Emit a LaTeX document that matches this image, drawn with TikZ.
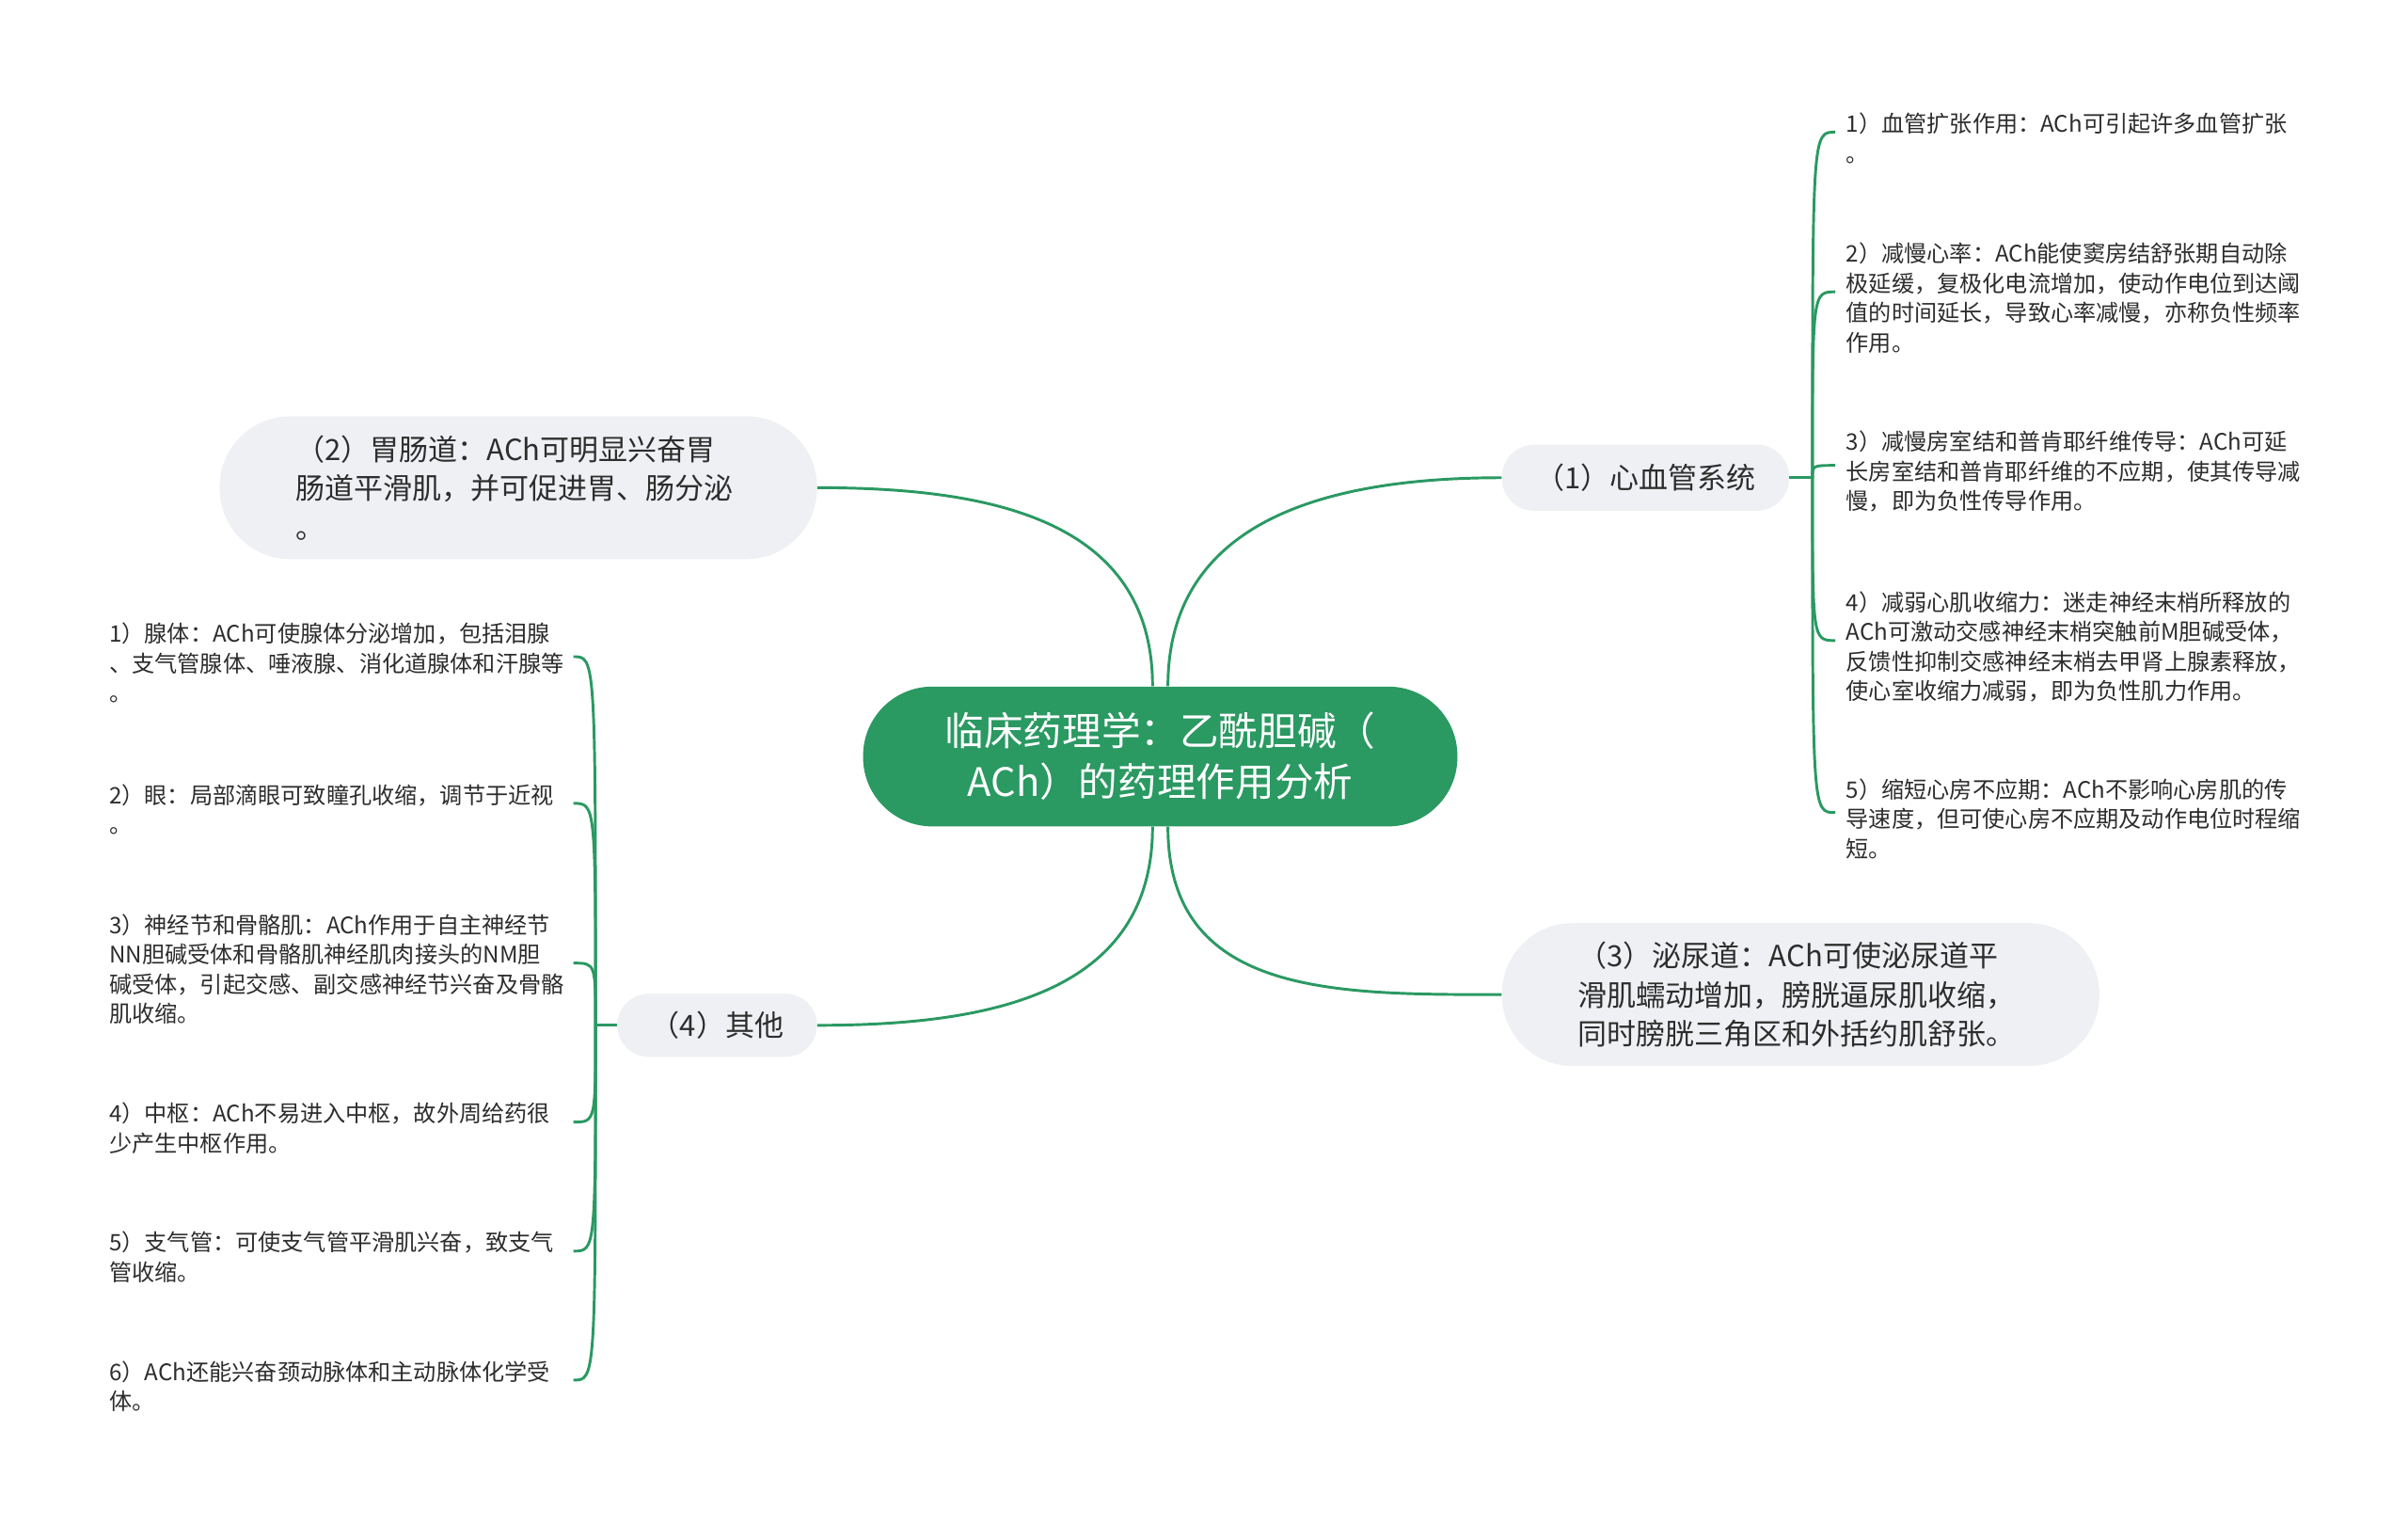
\documentclass[tikz,border=0pt]{standalone}
\usepackage{fontspec}
\setmainfont{Noto Sans CJK SC}
\usetikzlibrary{calc}
\definecolor{mmgreen}{RGB}{42,153,98}
\definecolor{subfill}{RGB}{238,240,243}
\definecolor{txt}{RGB}{45,45,45}
\begin{document}
\begin{tikzpicture}[x=1pt,y=-1pt,
  conn/.style={draw=mmgreen, line width=1.8pt},
  rootbox/.style={fill=mmgreen, text=white, rounded corners=45pt, minimum width=387pt, minimum height=91pt, inner sep=0pt, align=center, font=\fontsize{25.5}{33}\selectfont},
  subbox/.style={fill=subfill, text=txt, inner sep=0pt, font=\fontsize{19}{25.5}\selectfont},
  leaf/.style={text=txt, inner sep=0pt, text width=300pt, align=left, anchor=west, font=\fontsize{14.8}{19.3}\selectfont}]
\useasboundingbox (0,0) rectangle (1568,992.9);
\fill[white] (0,0) rectangle (1568,992.9);

% root and main branches
\node[rootbox] (root) at (755.5,492.5) {临床药理学：乙酰胆碱（\\ACh）的药理作用分析};
\node[subbox, rounded corners=21pt, minimum width=187pt, minimum height=43pt] (c1) at (1071.5,311) {（1）心血管系统};
\node[subbox, rounded corners=46pt, minimum width=389pt, minimum height=93pt, text width=290pt, align=left] (c2) at (337.5,317.5) {（2）胃肠道：ACh可明显兴奋胃\\肠道平滑肌，并可促进胃、肠分泌\\。};
\node[subbox, rounded corners=46pt, minimum width=389pt, minimum height=93pt, text width=290pt, align=left] (c3) at (1172.5,647.5) {（3）泌尿道：ACh可使泌尿道平\\滑肌蠕动增加，膀胱逼尿肌收缩，\\同时膀胱三角区和外括约肌舒张。};
\node[subbox, rounded corners=20.5pt, minimum width=130pt, minimum height=41pt] (c4) at (467,667.5) {（4）其他};

% right leaves
\node[leaf] (r1) at (1202,90) {1）血管扩张作用：ACh可引起许多血管扩张\\。};
\node[leaf] (r2) at (1202,194) {2）减慢心率：ACh能使窦房结舒张期自动除\\极延缓，复极化电流增加，使动作电位到达阈\\值的时间延长，导致心率减慢，亦称负性频率\\作用。};
\node[leaf] (r3) at (1202,307) {3）减慢房室结和普肯耶纤维传导：ACh可延\\长房室结和普肯耶纤维的不应期，使其传导减\\慢，即为负性传导作用。};
\node[leaf] (r4) at (1202,421) {4）减弱心肌收缩力：迷走神经末梢所释放的\\ACh可激动交感神经末梢突触前M胆碱受体，\\反馈性抑制交感神经末梢去甲肾上腺素释放，\\使心室收缩力减弱，即为负性肌力作用。};
\node[leaf] (r5) at (1202,533) {5）缩短心房不应期：ACh不影响心房肌的传\\导速度，但可使心房不应期及动作电位时程缩\\短。};

% left leaves
\node[leaf] (l1) at (71,431.5) {1）腺体：ACh可使腺体分泌增加，包括泪腺\\、支气管腺体、唾液腺、消化道腺体和汗腺等\\。};
\node[leaf] (l2) at (71,527) {2）眼：局部滴眼可致瞳孔收缩，调节于近视\\。};
\node[leaf] (l3) at (71,631) {3）神经节和骨骼肌：ACh作用于自主神经节\\NN胆碱受体和骨骼肌神经肌肉接头的NM胆\\碱受体，引起交感、副交感神经节兴奋及骨骼\\肌收缩。};
\node[leaf] (l4) at (71,734.5) {4）中枢：ACh不易进入中枢，故外周给药很\\少产生中枢作用。};
\node[leaf] (l5) at (71,818.5) {5）支气管：可使支气管平滑肌兴奋，致支气\\管收缩。};
\node[leaf] (l6) at (71,902.5) {6）ACh还能兴奋颈动脉体和主动脉体化学受\\体。};

% root connectors
\draw[conn] ($(root.north)+(5,0)$) .. controls +(0,-110) and +(-110,0) .. (c1.west);
\draw[conn] ($(root.north)+(-5,0)$) .. controls +(0,-110) and +(110,0) .. (c2.east);
\draw[conn] ($(root.south)+(5,0)$) .. controls +(0,110) and +(-110,0) .. (c3.west);
\draw[conn] ($(root.south)+(-5,0)$) .. controls +(0,110) and +(110,0) .. (c4.east);

% right tree
\coordinate (jr) at ($(c1.east)+(15,0)$);
\draw[conn] (c1.east) -- (jr);
\foreach \n in {r1,r2,r3,r4,r5}{
  \coordinate (e) at ($(\n.west)+(-7,-4)$);
  \draw[conn] (jr) .. controls (jr |- e) .. (e);
}

% left tree
\coordinate (jl) at ($(c4.west)+(-14,0)$);
\draw[conn] (c4.west) -- (jl);
\foreach \n in {l1,l2,l3,l4,l5,l6}{
  \coordinate (e) at ($(\n.east)+(2,-4)$);
  \draw[conn] (jl) .. controls (jl |- e) .. (e);
}
\end{tikzpicture}
\end{document}
